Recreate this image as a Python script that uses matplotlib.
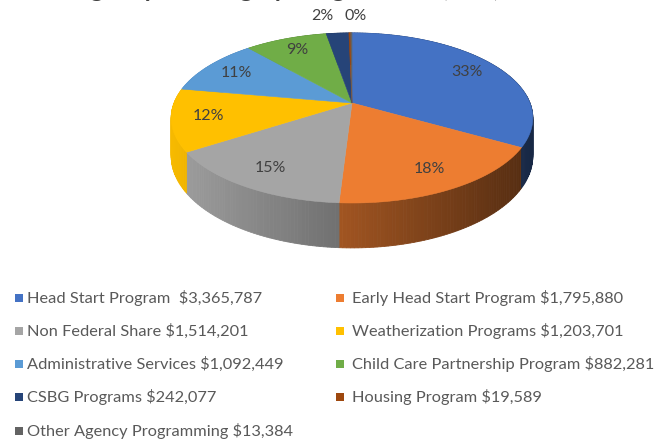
import numpy as np
import matplotlib
matplotlib.use("Agg")
import matplotlib.pyplot as plt
from matplotlib.patches import Polygon, Rectangle
from matplotlib.colors import to_rgb

# data
programs = ['Head Start Program', 'Early Head Start Program', 'Non Federal Share',
            'Weatherization Programs', 'Administrative Services',
            'Child Care Partnership Program', 'CSBG Programs', 'Housing Program',
            'Other Agency Programming']
amounts = [3365787, 1795880, 1514201, 1203701, 1092449, 882281, 242077, 19589, 13384]
legend_labels = ['Head Start Program  $3,365,787', 'Early Head Start Program $1,795,880',
                 'Non Federal Share $1,514,201', 'Weatherization Programs $1,203,701',
                 'Administrative Services $1,092,449', 'Child Care Partnership Program $882,281',
                 'CSBG Programs $242,077', 'Housing Program $19,589',
                 'Other Agency Programming $13,384']
colors = ['#4472C4', '#ED7D31', '#A5A5A5', '#FFC000', '#5B9BD5',
          '#70AD47', '#264478', '#9E480E', '#636363']
title = 'Agency Funding by Program  $10,129,349'

W, H = 657, 442
fig = plt.figure(figsize=(W / 100, H / 100), dpi=100)
ax = fig.add_axes([0, 0, 1, 1])
ax.set_xlim(0, W)
ax.set_ylim(H, 0)
ax.axis('off')

# 3d pie geometry (perspective view of a disc)
CX, CY = 352, 103
A, B, K, DEPTH = 178, 82.4, -0.176, 37


def proj(r, t, z=0.0):
    u = r * np.sin(t)
    v = -r * np.cos(t)
    d = 1 + K * v
    return CX + A * u / d, CY + (B * v + z) / d


def shade(c, x):
    f = 0.97 - 0.62 * (x - 170) / 363
    f = min(max(f, 0.3), 1.0)
    return tuple(ch * f for ch in to_rgb(c))


vals = np.array(amounts, dtype=float)
frac = vals / vals.sum()
edges = np.concatenate([[0], np.cumsum(frac)]) * 2 * np.pi

# side walls, back to front
quads = []
for i in range(len(vals)):
    t0, t1 = edges[i], edges[i + 1]
    n = max(2, int(np.degrees(t1 - t0)))
    ts = np.linspace(t0, t1, n + 1)
    for a, b in zip(ts[:-1], ts[1:]):
        pts = [proj(1, a), proj(1, b), proj(1, b, DEPTH), proj(1, a, DEPTH)]
        quads.append((-np.cos((a + b) / 2), pts, colors[i]))
quads.sort(key=lambda q: -q[0])
for key, pts, c in quads:
    xm = np.mean([p[0] for p in pts])
    col = shade(c, xm)
    ax.add_patch(Polygon(pts, closed=True, facecolor=col, edgecolor=col, lw=0.6))

# top faces
for i in range(len(vals)):
    ts = np.linspace(edges[i], edges[i + 1], 80)
    pts = [(CX, CY)] + [proj(1, t) for t in ts]
    ax.add_patch(Polygon(pts, closed=True, facecolor=colors[i], edgecolor=colors[i], lw=0.4))

# data labels (tiny slices share one label outside the pie, as in the source)
nudge = {6: -12, 7: 6}
shown = []
for i, f in enumerate(frac):
    txt = f'{f * 100:.0f}%'
    mid = (edges[i] + edges[i + 1]) / 2
    if f < 0.05:
        x, y = proj(1.3, mid)
        x += nudge.get(i, 0)
    else:
        x, y = proj(0.8, mid)
    if any(s == txt and abs(sx - x) < 15 and abs(sy - y) < 10 for s, sx, sy in shown):
        continue
    shown.append((txt, x, y))
    ax.text(x, y, txt, ha='center', va='center', fontsize=11.5,
            family='Lato', color='#404040')

# title, mostly cut off at the top edge as in the source image
ax.text(W / 2 - 20, -3, title, ha='center', va='baseline', fontsize=18,
        fontweight='bold', family='Lato', color='#404040')

# legend in two columns
col_x = [15, 336]
text_x = [27, 352]
row_y = [298, 331, 364, 397, 431]
for i, lab in enumerate(legend_labels):
    r, c = divmod(i, 2)
    y = row_y[r]
    ax.add_patch(Rectangle((col_x[c], y - 4), 8, 8, facecolor=colors[i], edgecolor='none'))
    ax.text(text_x[c], y, lab, ha='left', va='center', fontsize=11.8, family='Lato',
            color='#595959')

fig.savefig('out.png', dpi=100)
